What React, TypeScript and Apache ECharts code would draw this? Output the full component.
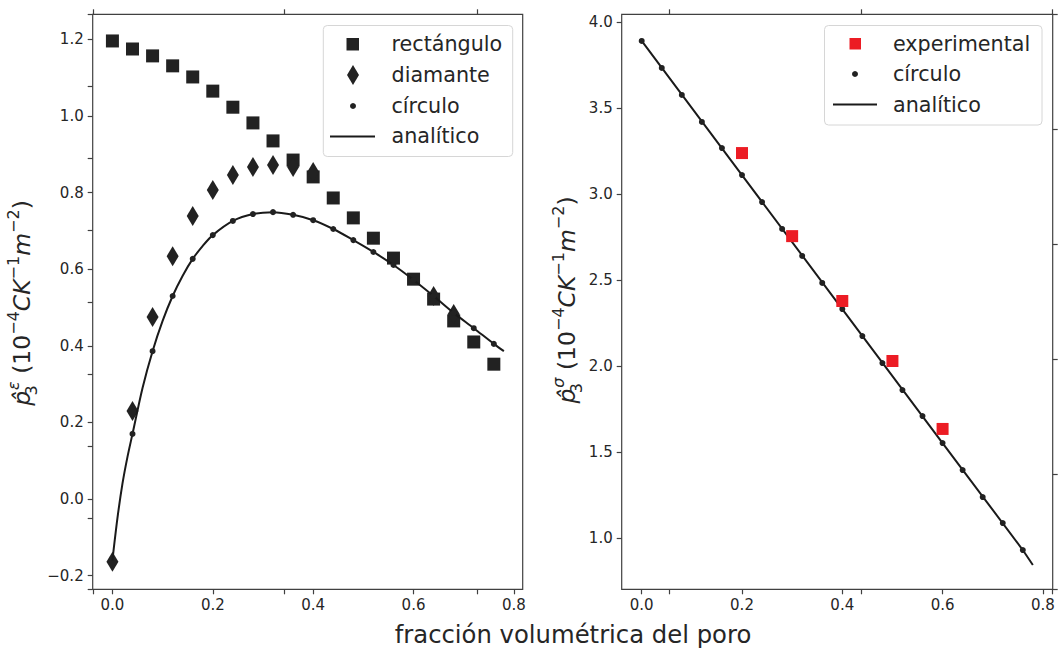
import React, { useEffect, useRef } from "react";
import * as echarts from "echarts";

// ---------- data ----------
const xSteps = [0, 0.04, 0.08, 0.12, 0.16, 0.2, 0.24, 0.28, 0.32, 0.36, 0.4, 0.44, 0.48, 0.52, 0.56, 0.6, 0.64, 0.68, 0.72, 0.76];
const rectangulo = [1.196, 1.175, 1.157, 1.131, 1.102, 1.065, 1.023, 0.982, 0.935, 0.885, 0.841, 0.786, 0.734, 0.681, 0.629, 0.574, 0.522, 0.465, 0.41, 0.352];
const diamanteX = [0, 0.04, 0.08, 0.12, 0.16, 0.2, 0.24, 0.28, 0.32, 0.36, 0.4, 0.64, 0.68];
const diamante = [-0.164, 0.23, 0.475, 0.634, 0.739, 0.807, 0.846, 0.867, 0.872, 0.867, 0.854, 0.53, 0.483];
const circuloLeftX = [0.04, 0.08, 0.12, 0.16, 0.2, 0.24, 0.28, 0.32, 0.36, 0.4, 0.44, 0.48, 0.52, 0.56, 0.6, 0.64, 0.68, 0.72, 0.76];
const circuloLeft = [0.17, 0.386, 0.53, 0.627, 0.689, 0.726, 0.744, 0.749, 0.742, 0.728, 0.705, 0.676, 0.645, 0.611, 0.572, 0.53, 0.486, 0.446, 0.405];
const analiticoLeftX = [0, 0.01, 0.02, 0.03, 0.04, 0.06, 0.08, 0.1, 0.12, 0.14, 0.16, 0.18, 0.2, 0.24, 0.28, 0.32, 0.36, 0.4, 0.44, 0.48, 0.52, 0.56, 0.6, 0.64, 0.68, 0.72, 0.76, 0.78];
const analiticoLeft = [-0.16, -0.05, 0.04, 0.11, 0.17, 0.29, 0.386, 0.465, 0.53, 0.583, 0.627, 0.661, 0.689, 0.726, 0.744, 0.749, 0.742, 0.728, 0.705, 0.676, 0.645, 0.611, 0.572, 0.53, 0.486, 0.446, 0.405, 0.386];

const circuloRight = [3.89, 3.733, 3.576, 3.419, 3.267, 3.11, 2.953, 2.797, 2.64, 2.483, 2.331, 2.174, 2.017, 1.86, 1.709, 1.552, 1.395, 1.238, 1.087, 0.93];
const analiticoRightX = [0, 0.2, 0.4, 0.6, 0.76, 0.78];
const analiticoRight = [3.89, 3.11, 2.331, 1.552, 0.93, 0.843];
const experimentalX = [0.2, 0.3, 0.4, 0.5, 0.6];
const experimental = [3.238, 2.755, 2.378, 2.029, 1.634];

const xTicks = [0, 0.2, 0.4, 0.6, 0.8];
const leftYTicks = [-0.2, 0, 0.2, 0.4, 0.6, 0.8, 1.0, 1.2];
const rightYTicks = [1.0, 1.5, 2.0, 2.5, 3.0, 3.5, 4.0];
// secondary (twin) axis tick positions, in data units
const leftTwinX = [-0.039, 0.3422, 0.7261];
const leftTwinY = [1.2655, 1.078, 0.89, 0.702, 0.514, 0.326, 0.138, -0.05, -0.2355];
const rightTwinX = [0.0544, 0.4373, 0.8193];
const rightTwinY = [4.044, 3.378, 2.709, 2.041, 1.372, 0.703];

const legendLeft = ["rectángulo", "diamante", "círculo", "analítico"];
const legendRight = ["experimental", "círculo", "analítico"];

const xName = "fracción volumétrica del poro";

const FONT = "'DejaVu Sans', sans-serif";
const INK = "#262626";
const MARK = "#222222";
const RED = "#ec1c24";
const SPINE = "#404040";

const zip = (xs: number[], ys: number[]) => xs.map((x, i) => [x, ys[i]]);
const fmt = (v: number) => v.toFixed(1).replace("-", "\u2212");

export default function App() {
  const ref = useRef<HTMLDivElement>(null);
  useEffect(() => {
    if (!ref.current) return;
    const chart = echarts.init(ref.current, undefined, { renderer: "svg" });

    const tick = { show: true, inside: false, length: 5, lineStyle: { color: SPINE, width: 1.2 } };
    const label = { fontFamily: FONT, fontSize: 15, color: INK };
    const noLine = { show: false, onZero: false };

    const mainX = (gi: number, min: number, max: number) => ({
      type: "value", gridIndex: gi, min, max, position: "bottom",
      axisLine: noLine, splitLine: { show: false },
      axisTick: { ...tick, customValues: xTicks },
      axisLabel: { ...label, margin: 8, customValues: xTicks, formatter: fmt },
    });
    const twinX = (gi: number, min: number, max: number, pos: string, vals: number[]) => ({
      type: "value", gridIndex: gi, min, max, position: pos,
      axisLine: noLine, splitLine: { show: false },
      axisTick: { ...tick, customValues: vals },
      axisLabel: { show: false },
    });
    const mainY = (gi: number, min: number, max: number, vals: number[]) => ({
      type: "value", gridIndex: gi, min, max, position: "left",
      axisLine: noLine, splitLine: { show: false },
      axisTick: { ...tick, customValues: vals },
      axisLabel: { ...label, margin: 9, customValues: vals, formatter: fmt },
    });
    const twinY = (gi: number, min: number, max: number, pos: string, vals: number[]) => ({
      type: "value", gridIndex: gi, min, max, position: pos,
      axisLine: noLine, splitLine: { show: false },
      axisTick: { ...tick, customValues: vals },
      axisLabel: { show: false },
    });

    const LX = [-0.0393, 0.8175];
    const RX = [-0.0399, 0.8196];
    const LY = [-0.2358, 1.2656];
    const RY = [0.7017, 4.0448];

    const richY = (sup: string) => ({
      text: `{p|p\u0302}{sub|3}{sup|${sup}}{n| (10}{s2|\u22124}{i|CK}{s2|\u22121}{i|m}{s2|\u22122}{n|)}`,
      rich: {
        p: { fontFamily: FONT, fontSize: 23.5, fontStyle: "italic", lineHeight: 34, verticalAlign: "middle", fill: INK },
        sub: { fontFamily: FONT, fontSize: 16, lineHeight: 34, verticalAlign: "bottom", width: 1, fill: INK },
        sup: { fontFamily: FONT, fontSize: 16, lineHeight: 34, verticalAlign: "top", fill: INK, fontStyle: "italic" },
        n: { fontFamily: FONT, fontSize: 23.5, lineHeight: 34, verticalAlign: "middle", fill: INK },
        i: { fontFamily: FONT, fontSize: 23.5, fontStyle: "italic", lineHeight: 34, verticalAlign: "middle", fill: INK },
        s2: { fontFamily: FONT, fontSize: 16, lineHeight: 34, verticalAlign: "top", fill: INK },
      },
      align: "center",
      verticalAlign: "middle",
    });

    const legendFrame = (x: number, y: number, w: number, h: number) => ({
      type: "rect", shape: { x, y, width: w, height: h, r: 4 },
      style: { fill: "rgba(255,255,255,0.85)", stroke: "#d6d6d6", lineWidth: 1 }, z: 100,
    });
    const legendText = (x: number, y: number, t: string) => ({
      type: "text", x, y, z: 101,
      style: { text: t, fontFamily: FONT, fontSize: 20.7, fill: INK, align: "left", verticalAlign: "middle" },
    });

    const solid = (c: string) => ({ color: c, opacity: 1 });

    const option: any = {
      animation: false,
      backgroundColor: "#ffffff",
      grid: [
        { left: 92.7, top: 14.3, width: 430, height: 575, show: true, borderColor: SPINE, borderWidth: 1.2, backgroundColor: "transparent", containLabel: false },
        { left: 621.7, top: 14.3, width: 431, height: 575, show: true, borderColor: SPINE, borderWidth: 1.2, backgroundColor: "transparent", containLabel: false },
      ],
      xAxis: [
        mainX(0, LX[0], LX[1]),
        twinX(0, LX[0], LX[1], "top", leftTwinX),
        twinX(0, LX[0], LX[1], "bottom", leftTwinX),
        mainX(1, RX[0], RX[1]),
        twinX(1, RX[0], RX[1], "top", rightTwinX),
        twinX(1, RX[0], RX[1], "bottom", rightTwinX),
      ],
      yAxis: [
        mainY(0, LY[0], LY[1], leftYTicks),
        twinY(0, LY[0], LY[1], "left", leftTwinY),
        mainY(1, RY[0], RY[1], rightYTicks),
        twinY(1, RY[0], RY[1], "right", rightTwinY),
      ],
      series: [
        {
          name: "rectángulo", type: "scatter", xAxisIndex: 0, yAxisIndex: 0,
          symbol: "rect", symbolSize: 13, itemStyle: solid(MARK), z: 3,
          data: zip(xSteps, rectangulo),
        },
        {
          name: "diamante", type: "scatter", xAxisIndex: 0, yAxisIndex: 0,
          symbol: "diamond", symbolSize: [12, 20], itemStyle: solid(MARK), z: 4,
          data: zip(diamanteX, diamante),
        },
        {
          name: "analítico", type: "line", xAxisIndex: 0, yAxisIndex: 0,
          showSymbol: false, symbol: "none", smooth: 0.3,
          lineStyle: { color: "#1a1a1a", width: 2 }, z: 5,
          data: zip(analiticoLeftX, analiticoLeft),
        },
        {
          name: "círculo", type: "scatter", xAxisIndex: 0, yAxisIndex: 0,
          symbol: "circle", symbolSize: 6, itemStyle: solid(MARK), z: 6,
          data: zip(circuloLeftX, circuloLeft),
        },
        {
          name: "analítico R", type: "line", xAxisIndex: 3, yAxisIndex: 2,
          showSymbol: false, symbol: "none",
          lineStyle: { color: "#1a1a1a", width: 2 }, z: 3,
          data: zip(analiticoRightX, analiticoRight),
        },
        {
          name: "círculo R", type: "scatter", xAxisIndex: 3, yAxisIndex: 2,
          symbol: "circle", symbolSize: 6, itemStyle: solid(MARK), z: 4,
          data: zip(xSteps, circuloRight),
        },
        {
          name: "experimental", type: "scatter", xAxisIndex: 3, yAxisIndex: 2,
          symbol: "rect", symbolSize: 12, itemStyle: solid(RED), z: 5,
          data: zip(experimentalX, experimental),
        },
      ],
      graphic: [
        { type: "text", x: 573, y: 634, style: { text: xName, fontFamily: FONT, fontSize: 24.3, fill: INK, align: "center", verticalAlign: "middle" } },
        { type: "text", x: 22, y: 303, rotation: Math.PI / 2, style: richY("\u03b5") },
        { type: "text", x: 567, y: 300, rotation: Math.PI / 2, style: richY("\u03c3") },
        // left legend
        legendFrame(323.3, 25.5, 189.4, 131),
        { type: "rect", z: 101, shape: { x: 346.5, y: 38, width: 12.5, height: 12.5 }, style: { fill: MARK } },
        { type: "polygon", z: 101, shape: { points: [[353, 65], [359, 75], [353, 85], [347, 75]] }, style: { fill: MARK } },
        { type: "circle", z: 101, shape: { cx: 353, cy: 106, r: 3 }, style: { fill: MARK } },
        { type: "line", z: 101, shape: { x1: 330, y1: 136.5, x2: 375, y2: 136.5 }, style: { stroke: "#1a1a1a", lineWidth: 2 } },
        legendText(391.5, 44, legendLeft[0]),
        legendText(391.5, 75, legendLeft[1]),
        legendText(391.5, 105.5, legendLeft[2]),
        legendText(391.5, 136, legendLeft[3]),
        // right legend
        legendFrame(824.5, 25.5, 217.5, 99.5),
        { type: "rect", z: 101, shape: { x: 849.5, y: 38, width: 11.5, height: 11.5 }, style: { fill: RED } },
        { type: "circle", z: 101, shape: { cx: 855, cy: 74, r: 3 }, style: { fill: MARK } },
        { type: "line", z: 101, shape: { x1: 833, y1: 104.5, x2: 877, y2: 104.5 }, style: { stroke: "#1a1a1a", lineWidth: 2 } },
        legendText(893, 44, legendRight[0]),
        legendText(893, 74, legendRight[1]),
        legendText(893, 104.5, legendRight[2]),
      ],
    };
    chart.setOption(option);
    return () => chart.dispose();
  }, []);
  return <div ref={ref} style={{ position: "fixed", left: 0, top: 0, width: 1060, height: 649, background: "#fff" }} />;
}
